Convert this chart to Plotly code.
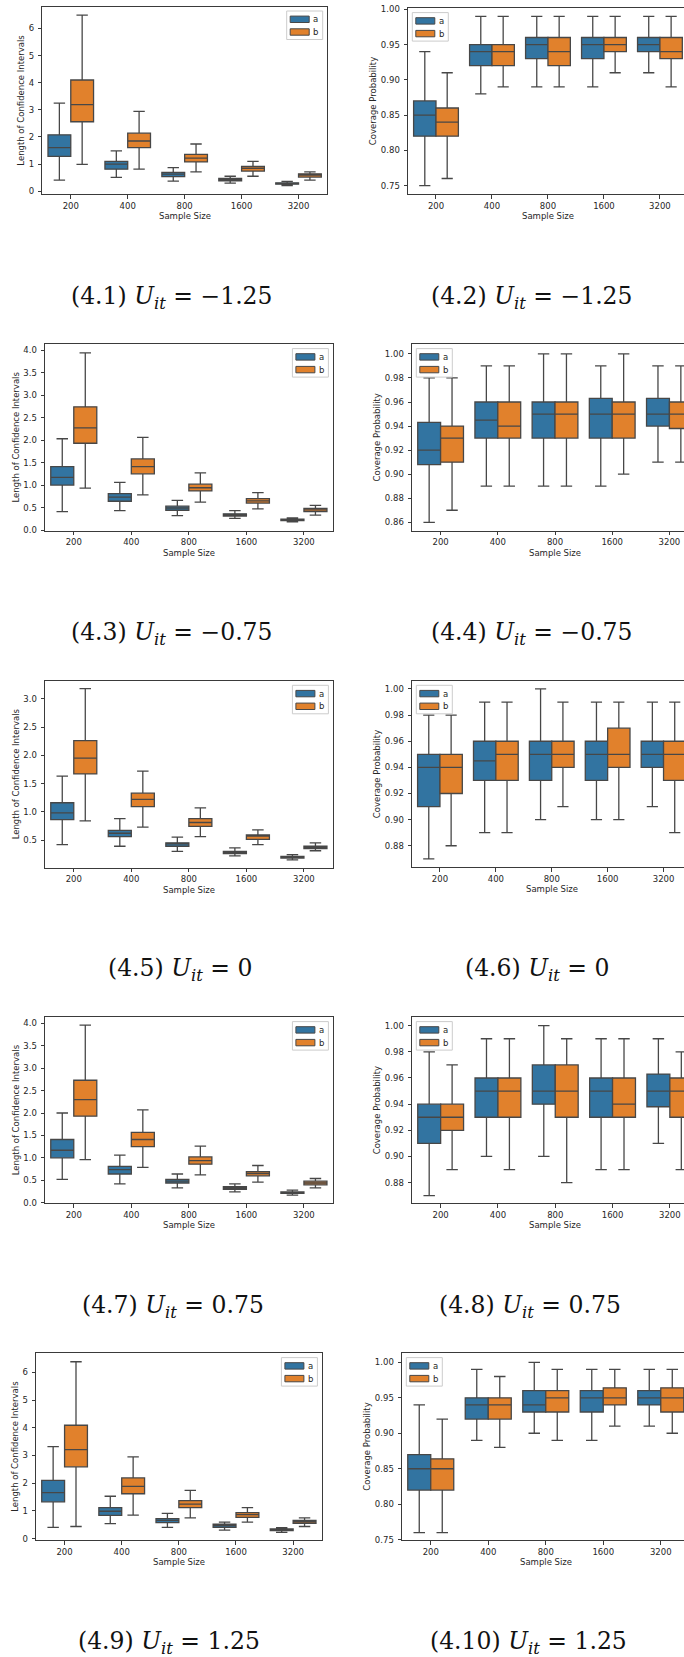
import plotly.graph_objects as go

W, H = 684, 1657

categories = ["200", "400", "800", "1600", "3200"]
series_names = ["a", "b"]

# each series: [lower whisker, q1, median, q3, upper whisker], values per category
fig41_a = [[0.41, 0.51, 0.37, 0.30, 0.21], [1.28, 0.81, 0.54, 0.38, 0.26], [1.61, 1.00, 0.63, 0.43, 0.28], [2.08, 1.10, 0.69, 0.47, 0.31], [3.25, 1.49, 0.87, 0.55, 0.36]]
fig41_b = [[0.99, 0.81, 0.71, 0.55, 0.41], [2.56, 1.61, 1.08, 0.74, 0.52], [3.19, 1.85, 1.22, 0.84, 0.59], [4.10, 2.14, 1.36, 0.91, 0.64], [6.49, 2.94, 1.74, 1.10, 0.71]]

fig42_a = [[0.75, 0.88, 0.89, 0.89, 0.91], [0.82, 0.92, 0.93, 0.93, 0.94], [0.85, 0.94, 0.95, 0.95, 0.95], [0.87, 0.95, 0.96, 0.96, 0.96], [0.94, 0.99, 0.99, 0.99, 0.99]]
fig42_b = [[0.76, 0.89, 0.89, 0.91, 0.89], [0.82, 0.92, 0.92, 0.94, 0.93], [0.84, 0.94, 0.94, 0.95, 0.94], [0.86, 0.95, 0.96, 0.96, 0.96], [0.91, 0.99, 0.99, 0.99, 0.99]]

fig43_a = [[0.41, 0.43, 0.32, 0.26, 0.18], [1.00, 0.64, 0.44, 0.31, 0.21], [1.17, 0.73, 0.49, 0.34, 0.23], [1.41, 0.81, 0.53, 0.36, 0.24], [2.03, 1.06, 0.66, 0.43, 0.27]]
fig43_b = [[0.93, 0.78, 0.62, 0.47, 0.33], [1.93, 1.25, 0.87, 0.60, 0.41], [2.27, 1.41, 0.94, 0.65, 0.45], [2.74, 1.58, 1.02, 0.70, 0.48], [3.94, 2.06, 1.27, 0.83, 0.55]]

fig44_a = [[0.86, 0.89, 0.89, 0.89, 0.91], [0.908, 0.93, 0.93, 0.93, 0.94], [0.92, 0.945, 0.95, 0.95, 0.95], [0.943, 0.96, 0.96, 0.963, 0.963], [0.98, 0.99, 1.00, 0.99, 0.99]]
fig44_b = [[0.87, 0.89, 0.89, 0.90, 0.91], [0.91, 0.93, 0.93, 0.93, 0.938], [0.93, 0.94, 0.95, 0.95, 0.95], [0.94, 0.96, 0.96, 0.96, 0.96], [0.98, 0.99, 1.00, 1.00, 0.99]]

fig45_a = [[0.42, 0.39, 0.30, 0.22, 0.15], [0.86, 0.56, 0.39, 0.26, 0.18], [0.98, 0.62, 0.43, 0.29, 0.19], [1.16, 0.67, 0.45, 0.30, 0.21], [1.63, 0.88, 0.55, 0.36, 0.24]]
fig45_b = [[0.84, 0.73, 0.56, 0.42, 0.31], [1.67, 1.09, 0.74, 0.51, 0.35], [1.95, 1.22, 0.81, 0.57, 0.37], [2.26, 1.33, 0.88, 0.59, 0.39], [3.18, 1.72, 1.07, 0.68, 0.45]]

fig46_a = [[0.87, 0.89, 0.90, 0.90, 0.91], [0.91, 0.93, 0.93, 0.93, 0.94], [0.94, 0.945, 0.95, 0.95, 0.95], [0.95, 0.96, 0.96, 0.96, 0.96], [0.98, 0.99, 1.00, 0.99, 0.99]]
fig46_b = [[0.88, 0.89, 0.91, 0.90, 0.89], [0.92, 0.93, 0.94, 0.94, 0.93], [0.94, 0.95, 0.95, 0.95, 0.95], [0.95, 0.96, 0.96, 0.97, 0.96], [0.98, 0.99, 0.99, 0.99, 0.99]]

fig47_a = [[0.52, 0.42, 0.33, 0.24, 0.17], [1.00, 0.64, 0.44, 0.30, 0.21], [1.17, 0.74, 0.48, 0.33, 0.22], [1.41, 0.81, 0.52, 0.36, 0.24], [2.00, 1.06, 0.64, 0.42, 0.28]]
fig47_b = [[0.96, 0.79, 0.62, 0.46, 0.33], [1.93, 1.25, 0.86, 0.60, 0.40], [2.30, 1.41, 0.94, 0.65, 0.44], [2.73, 1.57, 1.02, 0.69, 0.48], [3.96, 2.07, 1.26, 0.83, 0.54]]

fig48_a = [[0.87, 0.90, 0.90, 0.89, 0.91], [0.91, 0.93, 0.94, 0.93, 0.938], [0.93, 0.95, 0.95, 0.95, 0.95], [0.94, 0.96, 0.97, 0.96, 0.963], [0.98, 0.99, 1.00, 0.99, 0.99]]
fig48_b = [[0.89, 0.89, 0.88, 0.89, 0.89], [0.92, 0.93, 0.93, 0.93, 0.93], [0.93, 0.95, 0.95, 0.94, 0.95], [0.94, 0.96, 0.97, 0.96, 0.96], [0.97, 0.99, 0.99, 0.99, 0.98]]

fig49_a = [[0.41, 0.54, 0.41, 0.31, 0.23], [1.33, 0.84, 0.58, 0.41, 0.29], [1.66, 0.99, 0.66, 0.47, 0.32], [2.10, 1.12, 0.72, 0.52, 0.35], [3.32, 1.53, 0.91, 0.60, 0.40]]
fig49_b = [[0.44, 0.85, 0.75, 0.60, 0.44], [2.59, 1.62, 1.12, 0.77, 0.55], [3.21, 1.89, 1.25, 0.87, 0.61], [4.09, 2.19, 1.37, 0.94, 0.66], [6.38, 2.95, 1.74, 1.12, 0.75]]

fig410_a = [[0.76, 0.89, 0.90, 0.89, 0.91], [0.82, 0.92, 0.93, 0.93, 0.94], [0.85, 0.94, 0.94, 0.95, 0.95], [0.87, 0.95, 0.96, 0.96, 0.96], [0.94, 0.99, 1.00, 0.99, 0.99]]
fig410_b = [[0.76, 0.88, 0.89, 0.91, 0.90], [0.82, 0.92, 0.93, 0.94, 0.93], [0.85, 0.94, 0.95, 0.95, 0.95], [0.864, 0.95, 0.96, 0.964, 0.964], [0.92, 0.98, 0.99, 0.99, 0.99]]

captions = ["(4.1)", "(4.2)", "(4.3)", "(4.4)", "(4.5)", "(4.6)", "(4.7)", "(4.8)", "(4.9)", "(4.10)"]
u_values = ["−1.25", "−1.25", "−0.75", "−0.75", "0", "0", "0.75", "0.75", "1.25", "1.25"]

LEN_LABEL = "Length of Confidence Intervals"
COV_LABEL = "Coverage Probability"
X_LABEL = "Sample Size"

BLUE = "#3274a1"
ORANGE = "#e1812c"
EDGE = "#474747"
AX = "#3a3a3a"
TXT = "#262626"
FONT = "DejaVu Sans"
FS = 8.5

# layout in page pixels: plot area, y range, ticks, visible x max, legend side, y-title offset
panels = [
    dict(a=fig41_a, b=fig41_b, ylab=LEN_LABEL, px=(42.3, 327), py=(6.7, 194), yr=(-0.104, 6.804), dt=1, tf="d", xr=4.5, leg="r", yto=21),
    dict(a=fig42_a, b=fig42_b, ylab=COV_LABEL, px=(408, 684), py=(8.3, 194), yr=(0.738, 1.0014), dt=0.05, tf=".2f", xr=4.43, leg="l", yto=35),
    dict(a=fig43_a, b=fig43_b, ylab=LEN_LABEL, px=(45, 332.7), py=(344.3, 530.7), yr=(-0.015, 4.13), dt=0.5, tf=".1f", xr=4.5, leg="r", yto=29),
    dict(a=fig44_a, b=fig44_b, ylab=COV_LABEL, px=(412, 684), py=(344.3, 530.7), yr=(0.853, 1.008), dt=0.02, tf=".2f", xr=4.255, leg="l", yto=35),
    dict(a=fig45_a, b=fig45_b, ylab=LEN_LABEL, px=(45, 332.7), py=(681, 867.7), yr=(0.01, 3.315), dt=0.5, tf=".1f", xr=4.5, leg="r", yto=29),
    dict(a=fig46_a, b=fig46_b, ylab=COV_LABEL, px=(412, 684), py=(681, 867.3), yr=(0.8635, 1.0061), dt=0.02, tf=".2f", xr=4.366, leg="l", yto=35),
    dict(a=fig47_a, b=fig47_b, ylab=LEN_LABEL, px=(45, 332.7), py=(1017.3, 1203.3), yr=(-0.013, 4.134), dt=0.5, tf=".1f", xr=4.5, leg="r", yto=29),
    dict(a=fig48_a, b=fig48_b, ylab=COV_LABEL, px=(412, 684), py=(1017.3, 1203.3), yr=(0.8642, 1.0064), dt=0.02, tf=".2f", xr=4.247, leg="l", yto=35),
    dict(a=fig49_a, b=fig49_b, ylab=LEN_LABEL, px=(36, 321.7), py=(1353.3, 1540.3), yr=(-0.058, 6.685), dt=1, tf="d", xr=4.5, leg="r", yto=21),
    dict(a=fig410_a, b=fig410_b, ylab=COV_LABEL, px=(402, 684), py=(1353.3, 1540), yr=(0.7496, 1.0127), dt=0.05, tf=".2f", xr=4.404, leg="l", yto=35),
]
caption_pos = [(172, 297), (532, 297), (172, 633), (532, 633), (180, 969), (537, 969), (173, 1306), (530, 1306), (169, 1642), (528, 1642)]


def fx(px):
    return px / W


def fy(py):
    return 1 - py / H


fig = go.Figure()
annotations = []
shapes = []
layout = dict(
    width=W, height=H, margin=dict(l=0, r=0, t=0, b=0, autoexpand=False),
    paper_bgcolor="white", plot_bgcolor="white",
    boxmode="group", boxgap=0.2, boxgroupgap=0.0,
    font=dict(family=FONT, size=FS, color=TXT),
    showlegend=False,
)
tickfont = dict(size=FS, family=FONT, color=TXT)

for i, p in enumerate(panels, start=1):
    sfx = "" if i == 1 else str(i)
    for name, data, color in ((series_names[0], p["a"], BLUE), (series_names[1], p["b"], ORANGE)):
        lo, q1, med, q3, hi = data
        fig.add_trace(go.Box(
            x=categories, lowerfence=lo, q1=q1, median=med, q3=q3, upperfence=hi,
            name=name, offsetgroup=name, fillcolor=color,
            line=dict(color=EDGE, width=1.3), whiskerwidth=0.5,
            boxpoints=False, hoverinfo="skip",
            xaxis="x" + sfx, yaxis="y" + sfx,
        ))
    x0, x1 = p["px"]
    y0, y1 = p["py"]
    right_clipped = p["xr"] < 4.5
    layout["xaxis" + sfx] = dict(
        domain=[fx(x0), min(fx(x1), 1.0)], anchor="y" + sfx, type="category",
        categoryorder="array", categoryarray=categories,
        range=[-0.5, p["xr"]], showline=True, mirror=True,
        linecolor=AX, linewidth=1, ticks="outside", ticklen=3.5, tickwidth=1, tickcolor=AX,
        showgrid=False, zeroline=False, tickfont=tickfont, automargin=False,
        ticklabeloverflow="allow", fixedrange=True,
    )
    layout["yaxis" + sfx] = dict(
        domain=[fy(y1), min(fy(y0), 1.0)], anchor="x" + sfx,
        range=list(p["yr"]), dtick=p["dt"], tick0=0, tickformat=p["tf"],
        showline=True, mirror=not right_clipped, linecolor=AX, linewidth=1,
        ticks="outside", ticklen=3.5, tickwidth=1, tickcolor=AX, ticklabelstandoff=2,
        showgrid=False, zeroline=False, tickfont=tickfont, automargin=False,
        ticklabeloverflow="allow", fixedrange=True,
    )
    # axis titles
    full_w = (x1 - x0) * 5.0 / (p["xr"] + 0.5)
    annotations.append(dict(
        x=fx(x0 + full_w / 2), y=fy(y1 + 22), xref="paper", yref="paper",
        text=X_LABEL, showarrow=False, xanchor="center", yanchor="middle",
        font=dict(size=FS, family=FONT, color=TXT),
    ))
    annotations.append(dict(
        x=fx(x0 - p["yto"]), y=fy((y0 + y1) / 2), xref="paper", yref="paper",
        text=p["ylab"], showarrow=False, textangle=-90, xanchor="center", yanchor="middle",
        font=dict(size=FS, family=FONT, color=TXT),
    ))
    # legend box (matplotlib style)
    lw, lh = 36, 28.5
    lx0 = (x1 - 4.3 - lw) if p["leg"] == "r" else (x0 + 4.3)
    ly0 = y0 + 4.3
    shapes.append(dict(
        type="rect", xref="paper", yref="paper", layer="above",
        x0=fx(lx0), x1=fx(lx0 + lw), y0=fy(ly0 + lh), y1=fy(ly0),
        fillcolor="rgba(255,255,255,0.8)", line=dict(color="#cccccc", width=1),
    ))
    for k, (name, color) in enumerate(((series_names[0], BLUE), (series_names[1], ORANGE))):
        cy = ly0 + 8.3 + k * 12.7
        shapes.append(dict(
            type="rect", xref="paper", yref="paper", layer="above",
            x0=fx(lx0 + 3.5), x1=fx(lx0 + 22.5), y0=fy(cy + 3.2), y1=fy(cy - 3.2),
            fillcolor=color, line=dict(color=EDGE, width=1),
        ))
        annotations.append(dict(
            x=fx(lx0 + 29), y=fy(cy), xref="paper", yref="paper", text=name,
            showarrow=False, xanchor="center", yanchor="middle",
            font=dict(size=FS, family=FONT, color=TXT),
        ))
    cx, cy = caption_pos[i - 1]
    annotations.append(dict(
        x=fx(cx), y=fy(cy), xref="paper", yref="paper", showarrow=False,
        xanchor="center", yanchor="middle",
        text=f"{captions[i-1]} <i>U</i><sub><i>it</i></sub> = {u_values[i-1]}",
        font=dict(family="DejaVu Serif", size=23.5, color="#111111"),
    ))

layout["annotations"] = annotations
layout["shapes"] = shapes
fig.update_layout(**layout)
# the page body otherwise adds an 8px margin around the figure
fig.write_html("out.html", config={"displayModeBar": False},
               post_script="document.body.style.margin='0px';")
